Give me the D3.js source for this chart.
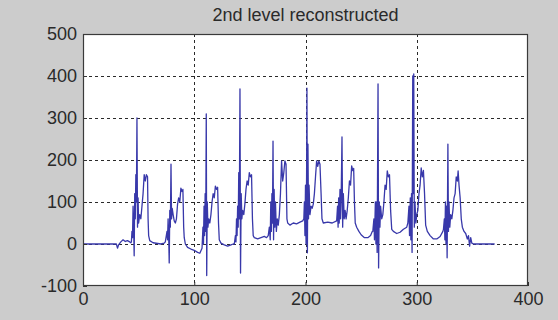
<!DOCTYPE html>
<html lang="en">

<head>
    <meta charset="UTF-8">
    <title>2nd level reconstructed</title>
    <style>
        body {
            margin: 0;
            background: #cccccc;
        }

        svg {
            display: block;
        }

        text {
            font-family: "Liberation Sans", Arial, sans-serif;
        }
    </style>
</head>

<body>
    <script src="https://d3js.org/d3.v7.min.js"></script>
    <script>
        const titleText = '2nd level reconstructed'
        const xTicks = [0, 100, 200, 300, 400]
        const yTicks = [-100, 0, 100, 200, 300, 400, 500]

        // [sample, amplitude]
        const signal = [
            [0, 0], [30, 0], [31, -10], [32, -2], [34, 5], [36, 10], [38, 6], [40, 8], [42, 5], [43, 3],
            // beat 1
            [43.5, 5], [44, 30], [44.5, 15], [45, 90], [45.5, 40], [46, -28], [46.5, 120], [47, 60], [47.5, 165],
            [48, 100], [48.5, 300], [49, 40], [49.5, 110], [50, 50], [51, 70], [52, 60], [53, 90], [54, 120],
            [55, 165], [56, 150], [57, 165], [58, 160], [58.5, 60], [59, 20], [60, 8], [63, 3], [70, 0],
            // beat 2
            [73, 2], [74, 5], [75.5, 30], [76, 10], [76.5, 60], [77, 20], [77.5, -45], [78, 80], [78.5, 40],
            [79.1, 190], [79.6, 60], [80.2, 85], [81, 70], [82, 55], [83, 50], [84, 60], [85, 95], [86, 110],
            [87, 100], [88, 133], [89, 125], [89.8, 130], [90.5, 40], [91, 15], [92, 0], [94, -8], [97, -12],
            [100, -15], [103, -20], [105, -22],
            // beat 3
            [107, -10], [107.8, 40], [108.3, 0], [108.8, 90], [109.3, 20], [109.8, 120], [110.3, 30], [110.8, 310],
            [111.2, -75], [111.7, 100], [112.3, 40], [113, 60], [114, 50], [115, 70], [116, 100], [117, 120],
            [118, 110], [119, 138], [120, 130], [121, 135], [121.8, 50], [122.5, 10], [124, 2], [127, -2],
            [130, -5], [133, -2], [135, 0],
            // beat 4
            [136, 0], [137, 20], [137.5, 5], [138, 60], [138.5, 20], [139, 90], [139.5, 40], [140, 170], [140.5, 60],
            [141.1, 369], [141.6, -69], [142.2, 120], [142.8, 60], [143.5, 80], [144.5, 70], [145.5, 95],
            [146.5, 130], [147.5, 150], [148.5, 140], [149.5, 170], [150.5, 160], [151.5, 165], [152.3, 60],
            [153, 20], [154, 15], [157, 12], [160, 15], [163, 18], [165, 15], [166.5, 20],
            // beat 5
            [167.5, 40], [168.3, 10], [168.8, 100], [169.3, 30], [169.8, 120], [170.3, 50], [170.8, 245],
            [171.3, 10], [171.8, 130], [172.4, 40], [173, 100], [173.8, 30], [174.6, 60], [175.5, 45], [176.5, 70],
            [177.5, 120], [178.5, 198], [179.5, 150], [180.5, 170], [181.5, 198], [182.5, 190], [183.3, 60],
            [184, 50], [186, 45], [189, 50], [192, 48], [195, 52], [197.5, 55],
            // beat 6
            [198.5, 60], [199, 100], [199.5, 20], [200, 140], [200.5, 0], [201, 170], [201.3, 371], [201.7, -21],
            [202.2, 238], [202.7, 60], [203.2, 140], [204, 70], [205, 90], [206, 85], [207, 95], [208, 120],
            [209, 160], [210, 198], [211, 185], [212, 198], [213, 190], [214, 120], [214.8, 60], [216, 50],
            [220, 52], [224, 50], [228, 55],
            // beat 7
            [228.8, 90], [229.3, 40], [229.8, 110], [230.3, 50], [231, 130], [231.5, 60], [232, 100], [232.8, 255],
            [233.4, 40], [234, 120], [234.8, 60], [235.6, 80], [236.5, 60], [237.5, 80], [238.5, 110], [239.5, 150],
            [240.5, 140], [241.5, 186], [242.5, 175], [243.3, 180], [244, 100], [244.7, 50], [246, 40], [248, 30],
            [250, 22], [253, 15], [256, 15], [258.5, 20], [260, 30],
            // beat 8
            [260.5, 30], [261.5, 60], [262, 10], [262.8, 100], [263.3, 0], [263.8, 100], [264.4, -20], [265.2, 381],
            [265.7, -57], [266.3, 100], [266.9, 40], [267.5, 90], [268.5, 60], [269.5, 70], [270.5, 100],
            [271.5, 140], [272.5, 130], [273.5, 174], [274.5, 160], [275.5, 165], [276.5, 80], [277.5, 35],
            [279, 30], [282, 25], [285, 28], [288, 35], [291, 40],
            // beat 9
            [292, 50], [293, 90], [293.5, 20], [294.2, 110], [294.7, 10], [295.3, 120], [295.8, -20], [296.4, 400],
            [296.8, 120], [297.3, 405], [297.8, 40], [298.4, 100], [299.2, 50], [300, 70], [301, 80], [302, 120],
            [303, 140], [304, 181], [305, 160], [306, 175], [307, 120], [308, 45], [309.5, 30], [312, 20],
            [315, 12], [318, 12], [321, 18], [323.5, 30],
            // beat 10
            [324, 35], [324.8, 60], [325.3, 10], [325.8, 100], [326.3, 0], [326.8, 90], [327.3, -33], [328, 238],
            [328.5, 30], [329, 100], [329.7, 40], [330.5, 70], [331.5, 60], [332.5, 80], [333.5, 110], [334.5, 120],
            [335.5, 160], [336.5, 150], [337.2, 174], [338, 140], [339, 110], [340, 60], [341, 40], [342.5, 30],
            [344, 25], [345.5, 12], [346.5, 20], [347.5, -5], [348.5, 15], [349.5, 2], [351, 0], [370, 0]
        ]

        const width = 558
        const height = 320
        const margin = { top: 34, right: 30, bottom: 34, left: 83 }

        const svg = d3.select('body')
            .append('svg')
            .attr('width', width)
            .attr('height', height)

        svg.append('rect')
            .attr('width', width)
            .attr('height', height)
            .attr('fill', '#cccccc')

        const x = d3.scaleLinear()
            .domain([0, 400])
            .range([margin.left, width - margin.right])

        const y = d3.scaleLinear()
            .domain([-100, 500])
            .range([height - margin.bottom, margin.top])

        // plot area
        svg.append('rect')
            .attr('x', x(0))
            .attr('y', y(500))
            .attr('width', x(400) - x(0))
            .attr('height', y(-100) - y(500))
            .attr('fill', '#ffffff')

        // dotted grid
        const grid = svg.append('g')
            .attr('stroke', '#2a2a2a')
            .attr('stroke-width', 1)
            .attr('stroke-dasharray', '3,3')

        grid.selectAll('.vgrid')
            .data(xTicks.slice(1, -1))
            .join('line')
            .attr('x1', d => Math.round(x(d)) + 0.5)
            .attr('x2', d => Math.round(x(d)) + 0.5)
            .attr('y1', y(500))
            .attr('y2', y(-100))

        grid.selectAll('.hgrid')
            .data(yTicks.slice(1, -1))
            .join('line')
            .attr('x1', x(0))
            .attr('x2', x(400))
            .attr('y1', d => Math.round(y(d)) + 0.5)
            .attr('y2', d => Math.round(y(d)) + 0.5)

        svg.append('clipPath')
            .attr('id', 'clip')
            .append('rect')
            .attr('x', x(0))
            .attr('y', y(500))
            .attr('width', x(400) - x(0))
            .attr('height', y(-100) - y(500))

        const line = d3.line()
            .x(d => x(d[0]))
            .y(d => y(d[1]))

        svg.append('path')
            .datum(signal)
            .attr('clip-path', 'url(#clip)')
            .attr('fill', 'none')
            .attr('stroke', '#3838aa')
            .attr('stroke-width', 1.3)
            .attr('stroke-linejoin', 'round')
            .attr('d', line)

        // axes, ticks point inward like matlab
        const xAxis = d3.axisBottom(x)
            .tickValues(xTicks)
            .tickFormat(d => String(d))
            .tickSizeInner(-4)
            .tickSizeOuter(0)
            .tickPadding(6)

        const yAxis = d3.axisLeft(y)
            .tickValues(yTicks)
            .tickFormat(d => String(d))
            .tickSizeInner(-4)
            .tickSizeOuter(0)
            .tickPadding(6)

        const gx = svg.append('g')
            .attr('transform', 'translate(0,' + y(-100) + ')')
            .call(xAxis)

        const gy = svg.append('g')
            .attr('transform', 'translate(' + x(0) + ',0)')
            .call(yAxis)

        for (const g of [gx, gy]) {
            g.select('.domain').remove()
            g.selectAll('line').attr('stroke', '#333')
            g.selectAll('text')
                .attr('font-size', 18)
                .attr('fill', '#2a2a2a')
                .style('font-family', '"Liberation Sans", Arial, sans-serif')
        }

        // box
        svg.append('rect')
            .attr('x', x(0) + 0.5)
            .attr('y', y(500) + 0.5)
            .attr('width', x(400) - x(0) - 1)
            .attr('height', y(-100) - y(500) - 1)
            .attr('fill', 'none')
            .attr('stroke', '#3a3a3a')
            .attr('stroke-width', 1.2)

        svg.append('text')
            .attr('x', (x(0) + x(400)) / 2)
            .attr('y', 21)
            .attr('text-anchor', 'middle')
            .attr('font-size', 18)
            .attr('fill', '#2a2a2a')
            .text(titleText)

    </script>
</body>

</html>
